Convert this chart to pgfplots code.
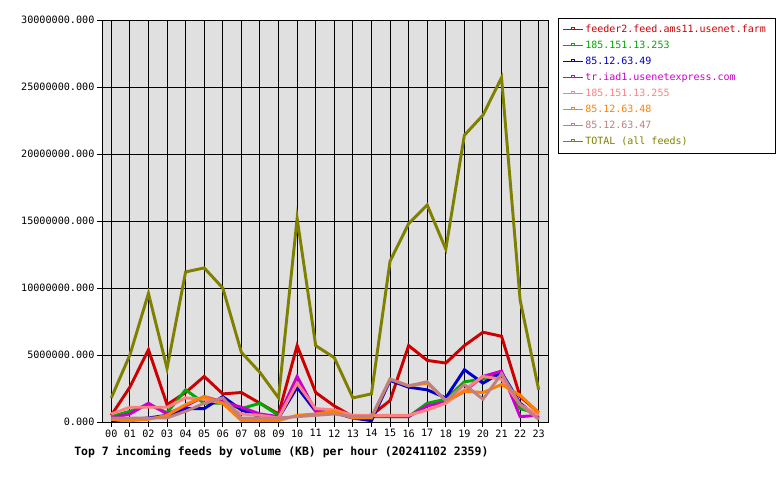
\documentclass[border=0pt]{standalone}
\usepackage{fontspec}
\usepackage{pgfplots}
\usepackage{pgfplotstable}
\pgfplotsset{compat=1.18}
\newfontfamily\pix{DejaVu Sans Mono}
\definecolor{cF}{HTML}{CC0000}
\definecolor{cG}{HTML}{00AA00}
\definecolor{cB}{HTML}{0000CC}
\definecolor{cM}{HTML}{CC00CC}
\definecolor{cP}{HTML}{FF8080}
\definecolor{cO}{HTML}{FF8000}
\definecolor{cR}{HTML}{C08080}
\definecolor{cT}{HTML}{808000}
\definecolor{bg}{HTML}{E0E0E0}
\pgfplotsset{limg/.style={legend image code/.code={
    \draw[#1, line width=0.75pt] (0pt,0pt) -- (15pt,0pt);
    \draw[#1, line width=0.6pt] (6.5pt,0pt) rectangle (8.7pt,1.8pt);
  }}}
% values in millions of KB
\pgfplotstableread{
h total f2 g253 b49 tr p255 o48 b47
0 1.8 0.5 0.4 0.1 0.3 0.6 0.2 0.3
1 5.0 2.6 0.8 0.2 0.6 1.1 0.1 0.3
2 9.6 5.4 1.3 0.3 1.4 1.1 0.2 0.3
3 4.0 1.3 0.7 0.5 0.6 1.1 0.5 0.3
4 11.2 2.2 2.4 1.0 1.2 1.8 1.3 0.8
5 11.5 3.4 1.4 1.0 1.9 1.7 1.9 1.4
6 10.0 2.1 1.4 1.9 1.5 1.4 1.4 1.8
7 5.2 2.2 1.0 0.9 1.1 0.6 0.1 0.3
8 3.7 1.4 1.4 0.4 0.6 0.5 0.1 0.3
9 1.8 0.6 0.5 0.3 0.4 0.3 0.1 0.3
10 15.2 5.7 2.7 2.6 3.4 2.9 0.5 0.4
11 5.7 2.2 0.9 0.8 0.8 1.0 0.6 0.5
12 4.8 1.2 0.8 0.7 0.7 0.9 0.8 0.6
13 1.8 0.4 0.3 0.3 0.4 0.5 0.3 0.4
14 2.1 0.5 0.4 0.1 0.5 0.5 0.3 0.4
15 12.0 1.6 0.4 3.1 0.4 0.5 3.2 3.2
16 14.8 5.7 0.4 2.6 0.4 0.5 2.7 2.7
17 16.2 4.6 1.4 2.4 1.2 0.9 2.9 3.0
18 12.9 4.4 1.7 1.8 1.5 1.4 1.6 1.6
19 21.4 5.7 3.0 3.9 2.3 2.4 2.3 2.8
20 22.9 6.7 3.2 2.9 3.4 3.4 2.2 1.7
21 25.7 6.4 3.7 3.7 3.8 3.2 2.8 3.6
22 9.1 1.9 1.0 1.4 0.4 1.3 2.0 1.3
23 2.4 0.7 0.6 0.3 0.5 0.5 0.7 0.2
}\data
\begin{document}
\begin{tikzpicture}
\path (0pt,0pt) rectangle (585pt,360pt);
\begin{axis}[
  at={(76.5pt,43.5pt)}, anchor=south west,
  scale only axis, width=334.5pt, height=301.5pt,
  xmin=-0.5, xmax=23.5, ymin=0, ymax=30,
  axis background/.style={fill=bg},
  axis line style={black, line width=0.75pt},
  xtick={0,...,23},
  xticklabels={00,01,02,03,04,05,06,07,08,09,10,11,12,13,14,15,16,17,18,19,20,21,22,23},
  ytick={0,5,10,15,20,25,30},
  yticklabels={0.000,5000000.000,10000000.000,15000000.000,20000000.000,25000000.000,30000000.000},
  /pgf/number format/assume math mode=true,
  tick align=outside, major tick length=3.5pt,
  tick style={black, line width=0.75pt},
  xtick pos=bottom, ytick pos=left,
  grid=major, major grid style={black, line width=0.75pt},
  ticklabel style={font=\pix\fontsize{7.6}{9}\selectfont},
  yticklabel style={inner sep=2pt},
  xticklabel style={inner sep=2pt},
  legend cell align=left,
  legend style={at={(rel axis cs:1.0224,1.005)}, anchor=north west,
    fill=white,
    font=\pix\fontsize{7.5}{9}\selectfont,
    row sep=1.9pt, inner xsep=3pt, inner ysep=3.5pt,
    nodes={inner xsep=1.5pt, inner ysep=1.5pt}},
  every axis plot/.append style={line width=2.2pt, line join=miter, mark=none},
]
\addplot[cF, limg=cF] table[x=h,y=f2]{\data};
\addlegendentry{\textcolor{cF}{feeder2.feed.ams11.usenet.farm}\kern 2.5pt}
\addplot[cG, limg=cG] table[x=h,y=g253]{\data};
\addlegendentry{\textcolor{cG}{185.151.13.253}}
\addplot[cB, limg=cB] table[x=h,y=b49]{\data};
\addlegendentry{\textcolor{cB}{85.12.63.49}}
\addplot[cM, limg=cM] table[x=h,y=tr]{\data};
\addlegendentry{\textcolor{cM}{tr.iad1.usenetexpress.com}}
\addplot[cP, limg=cP] table[x=h,y=p255]{\data};
\addlegendentry{\textcolor{cP}{185.151.13.255}}
\addplot[cO, limg=cO] table[x=h,y=o48]{\data};
\addlegendentry{\textcolor{cO}{85.12.63.48}}
\addplot[cR, limg=cR] table[x=h,y=b47]{\data};
\addlegendentry{\textcolor{cR}{85.12.63.47}}
\addplot[cT, limg=cT] table[x=h,y=total]{\data};
\addlegendentry{\textcolor{cT}{TOTAL (all feeds)}}
\end{axis}
\node[anchor=west, inner sep=0pt, font=\pix\bfseries\fontsize{8.6}{10}\selectfont] at (55.5pt,21pt) {Top 7 incoming feeds by volume (KB) per hour (20241102 2359)};
\end{tikzpicture}
\end{document}
